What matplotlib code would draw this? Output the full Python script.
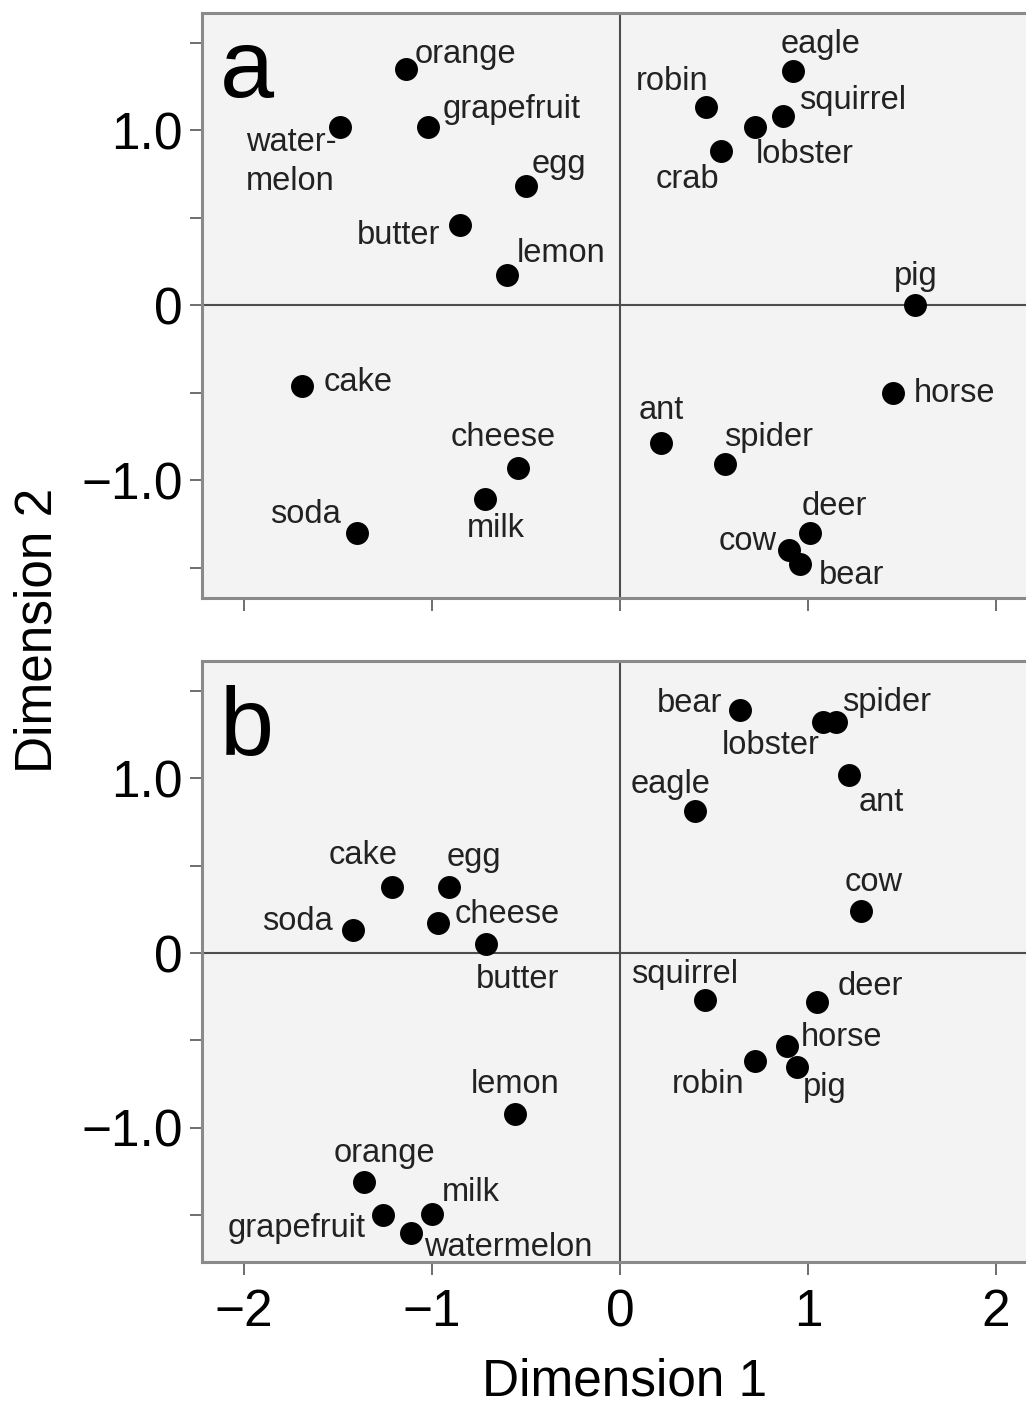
import matplotlib
matplotlib.use('Agg')
import matplotlib.pyplot as plt

plt.rcParams['font.family'] = ['Liberation Sans', 'DejaVu Sans']

# ---- data: panel a ----
words_a = ['orange', 'grapefruit', 'water-\nmelon', 'egg', 'butter', 'lemon',
           'cake', 'cheese', 'milk', 'soda',
           'eagle', 'robin', 'squirrel', 'lobster', 'crab', 'pig',
           'horse', 'ant', 'spider', 'deer', 'cow', 'bear']
dim1_a = [-1.14, -1.02, -1.49, -0.50, -0.85, -0.60,
          -1.69, -0.54, -0.72, -1.40,
          0.92, 0.46, 0.87, 0.72, 0.54, 1.57,
          1.45, 0.22, 0.56, 1.01, 0.90, 0.96]
dim2_a = [1.35, 1.02, 1.02, 0.68, 0.46, 0.17,
          -0.46, -0.93, -1.11, -1.30,
          1.34, 1.13, 1.08, 1.02, 0.88, 0.00,
          -0.50, -0.79, -0.91, -1.30, -1.40, -1.48]

# ---- data: panel b ----
words_b = ['cake', 'egg', 'soda', 'cheese', 'butter', 'lemon',
           'orange', 'grapefruit', 'milk', 'watermelon',
           'bear', 'lobster', 'spider', 'ant', 'eagle', 'cow',
           'squirrel', 'deer', 'horse', 'robin', 'pig']
dim1_b = [-1.21, -0.91, -1.42, -0.97, -0.71, -0.56,
          -1.36, -1.26, -1.00, -1.11,
          0.64, 1.08, 1.15, 1.22, 0.40, 1.28,
          0.45, 1.05, 0.89, 0.72, 0.94]
dim2_b = [0.38, 0.38, 0.13, 0.17, 0.05, -0.92,
          -1.31, -1.50, -1.49, -1.60,
          1.39, 1.32, 1.32, 1.02, 0.81, 0.24,
          -0.27, -0.28, -0.53, -0.62, -0.65]

xticks = [-2, -1, 0, 1, 2]
xticklabels = ['\u22122', '\u22121', '0', '1', '2']
yticks = [-1, 0, 1]
yticklabels = ['\u22121.0', '0', '1.0']

# label placement (pixel offset of baseline from the dot, alignment)
place_a = [(9, 6, 'left'), (14, 9, 'left'), (-94, -63, 'left'), (6, 13, 'left'),
           (-20, -19, 'right'), (10, 13, 'left'),
           (21, -5, 'left'), (-15, 22, 'center'), (11, -38, 'center'), (-16, 10, 'right'),
           (-12, 18, 'left'), (2, 17, 'right'), (16, 7, 'left'), (0, -36, 'left'),
           (-2, -37, 'right'), (1, 20, 'center'),
           (21, -9, 'left'), (0, 24, 'center'), (-1, 18, 'left'), (-8, 18, 'left'),
           (-12, 0, 'right'), (18, -20, 'left')]
place_b = [(-29, 23, 'center'), (-2, 21, 'left'), (-20, 0, 'right'), (17, 0, 'left'),
           (-11, -44, 'left'), (0, 21, 'center'),
           (20, 20, 'center'), (-17, -22, 'right'), (10, 13, 'left'), (13, -23, 'left'),
           (-18, -2, 'right'), (-3, -32, 'right'), (6, 11, 'left'), (9, -36, 'left'),
           (-25, 18, 'center'), (13, 20, 'center'),
           (-20, 17, 'center'), (20, 7, 'left'), (14, 0, 'left'), (-11, -32, 'right'),
           (6, -29, 'left')]

W, H = 1026, 1409
fig = plt.figure(figsize=(W / 100, H / 100), dpi=100)
fig.patch.set_facecolor('white')

ax_a = fig.add_axes([202 / W, 1 - 598 / H, (W - 202) / W, 585 / H])
ax_b = fig.add_axes([202 / W, 1 - 1262 / H, (W - 202) / W, 601 / H])


def draw_panel(ax, words, xs, ys, place, ylim, show_x):
    ax.set_facecolor('#f3f3f3')
    ax.axhline(0, color='#4d4d4d', lw=1.5, zorder=1)
    ax.axvline(0, color='#4d4d4d', lw=1.5, zorder=1)
    ax.plot(xs, ys, 'o', color='black', ms=15.5, mec='black', zorder=3)
    for w, x, y, (dx, dy, ha) in zip(words, xs, ys, place):
        ax.annotate(w, (x, y), xytext=(dx, dy), textcoords='offset pixels',
                    ha=ha, va='baseline', fontsize=23.5, color='#222222',
                    linespacing=1.3, zorder=4)
    ax.set_xlim(-2.223, 2.16)
    ax.set_ylim(*ylim)
    ax.set_xticks(xticks)
    ax.set_yticks(yticks)
    ax.set_yticks([-1.5, -0.5, 0.5, 1.5], minor=True)
    ax.set_yticklabels(yticklabels)
    if show_x:
        ax.set_xticklabels(xticklabels)
    else:
        ax.set_xticklabels([])
    ax.tick_params(axis='both', which='both', direction='out', length=9,
                   width=1.4, color='#6e6e6e', labelsize=37, labelcolor='black')
    ax.tick_params(axis='y', pad=5)
    ax.tick_params(axis='x', pad=10)
    for s in ['left', 'bottom', 'top']:
        ax.spines[s].set_color('#8a8a8a')
        ax.spines[s].set_linewidth(2.2)
    ax.spines['right'].set_visible(False)


draw_panel(ax_a, words_a, dim1_a, dim2_a, place_a, (-1.674, 1.669), False)
draw_panel(ax_b, words_b, dim1_b, dim2_b, place_b, (-1.766, 1.669), True)

# panel letters
fig.text(220 / W, 1 - 97 / H, 'a', fontsize=70, ha='left', va='baseline', color='black')
fig.text(220 / W, 1 - 755 / H, 'b', fontsize=70, ha='left', va='baseline', color='black')

# axis titles
fig.text(625 / W, 1 - 1396 / H, 'Dimension 1', fontsize=37, ha='center', va='baseline')
fig.text(13 / W, 1 - 630 / H, 'Dimension 2', fontsize=37, ha='left', va='center',
         rotation=90)

fig.savefig('out.png', dpi=100)
